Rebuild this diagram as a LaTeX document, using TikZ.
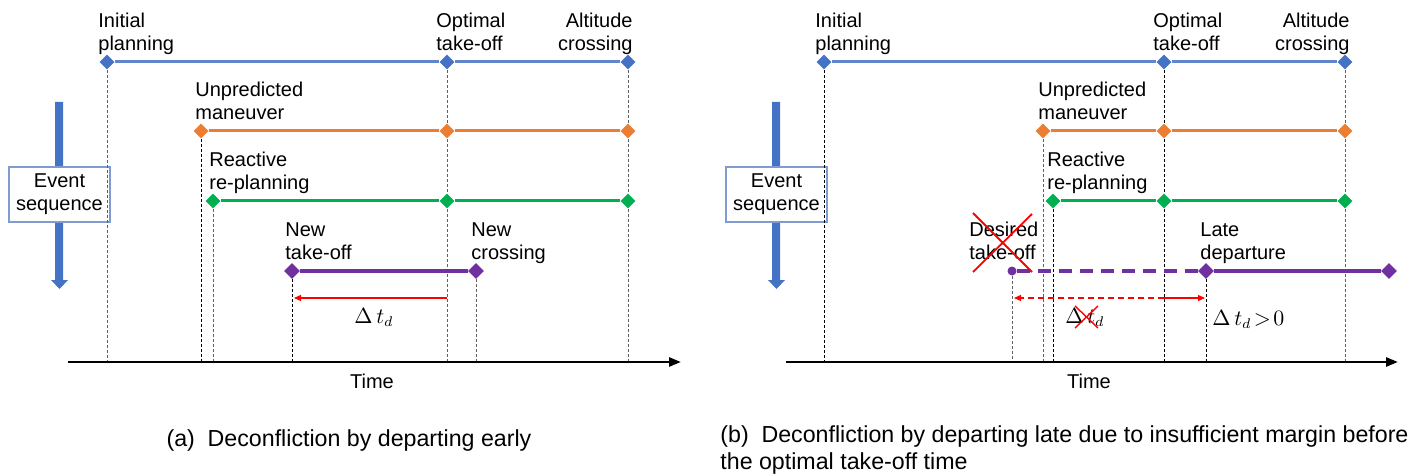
\documentclass[tikz,border=0pt]{standalone}
\usepackage{fontspec}
\setmainfont{Liberation Sans}
\usepackage{tikz}
\usetikzlibrary{shapes.geometric, arrows.meta}

\definecolor{evblue}{HTML}{4472C4}
\definecolor{evorange}{HTML}{ED7D31}
\definecolor{evgreen}{HTML}{00B050}
\definecolor{evpurple}{HTML}{7030A0}
\definecolor{boxedge}{HTML}{7F9BD0}

\begin{document}
\begin{tikzpicture}[x=0.5pt, y=-0.5pt,
    every node/.style={font=\fontsize{10}{11.5}\selectfont},
    evt/.style={diamond, fill=#1, inner sep=0pt, minimum size=7.5pt},
    lbl/.style={inner sep=0pt, text depth=0pt, align=left, anchor=south west},
    lblr/.style={inner sep=0pt, text depth=0pt, align=right, anchor=south east},
    phase/.style={line width=1.5pt},
    guide/.style={line width=0.5pt, gray!75!black, dash pattern=on 1.5pt off 1pt},
    guideb/.style={guide, black},
    timeaxis/.style={line width=1.3pt, -{Triangle[length=6pt,width=4.5pt]}},
    shiftarr/.style={red, line width=0.6pt, -{Triangle[length=3.5pt,width=3pt]}},
    evbox/.style={draw=boxedge, fill=white, line width=0.6pt, align=center,
        minimum width=50.5pt, minimum height=27.5pt, inner sep=0pt},
    crossout/.style={red, line width=0.9pt},
    dt/.style={font=\fontsize{10.5}{12}\selectfont, inner sep=0pt},
    caption/.style={font=\fontsize{11.6}{13.5}\selectfont, inner sep=0pt}
]
\useasboundingbox (0,0) rectangle (1426,476);

%%%% (a) departing early
\fill[evblue] (55,102) -- (63,102) -- (63,280) -- (68,280) -- (59.5,289) -- (51,280) -- (55,280) -- cycle;
\node[evbox] (aev) at (59.5,194.5) {Event\\sequence};

\coordinate (at0) at (68,362);
\coordinate (at9) at (681,362);

\node[evt=evblue] (ab1) at (107,62) {};
\node[evt=evblue] (ab2) at (447,62) {};
\node[evt=evblue] (ab3) at (628,62) {};
\node[evt=evorange] (ao1) at (201,131) {};
\node[evt=evorange] (ao2) at (447,131) {};
\node[evt=evorange] (ao3) at (628,131) {};
\node[evt=evgreen] (ag1) at (213,201) {};
\node[evt=evgreen] (ag2) at (447,201) {};
\node[evt=evgreen] (ag3) at (628,201) {};
\node[evt=evpurple, minimum size=8pt] (ap1) at (292,271) {};
\node[evt=evpurple, minimum size=8pt] (ap2) at (476,271) {};

\draw[guide] (ab1) -- (ab1 |- at0);
\draw[guideb] (ao1) -- (ao1 |- at0);
\draw[guide] (ag1) -- (ag1 |- at0);
\draw[guideb] (ap1) -- (ap1 |- at0);
\draw[guide] (ab2) -- (ao2) -- (ag2) -- (ag2 |- at0);
\draw[guide] (ap2) -- (ap2 |- at0);
\draw[guide] (ab3) -- (ao3) -- (ag3) -- (ag3 |- at0);

\draw[phase, evblue!85!white] (ab1) -- (ab2) -- (ab3);
\draw[phase, evorange] (ao1) -- (ao2) -- (ao3);
\draw[phase, evgreen] (ag1) -- (ag2) -- (ag3);
\draw[phase, evpurple, line width=2pt] (ap1) -- (ap2);

\node[lbl] (ainit) at (98,51) {Initial\\planning};
\node[lbl] (aopt) at (436,51) {Optimal\\take-off};
\node[lblr] (aalt) at (633,51) {Altitude\\crossing};
\node[lbl] (aunp) at (195,120) {Unpredicted\\maneuver};
\node[lbl] (areac) at (209,190) {Reactive\\re-planning};
\node[lbl] (anew) at (285,260) {New\\take-off};
\node[lbl] (anewc) at (471,260) {New\\crossing};

\coordinate (ad0) at (447,298);
\coordinate (ad1) at (294,298);
\draw[shiftarr] (ad0) -- (ad1);
\node[dt, anchor=base] (adt) at (374,323) {$\Delta\,t_d$};

\draw[timeaxis] (at0) -- (at9);
\node[anchor=base] (atime) at (372,388) {Time};

\node[caption, anchor=base] (capa) at (349,446) {(a)\hspace{0.55em}Deconfliction by departing early};

%%%% (b) departing late
\fill[evblue] (772,102) -- (780,102) -- (780,280) -- (785,280) -- (776.5,289) -- (768,280) -- (772,280) -- cycle;
\node[evbox] (bev) at (776.5,194.5) {Event\\sequence};

\coordinate (bt0) at (786,362);
\coordinate (bt9) at (1398,362);

\node[evt=evblue] (bb1) at (824,62) {};
\node[evt=evblue] (bb2) at (1164,62) {};
\node[evt=evblue] (bb3) at (1345,62) {};
\node[evt=evorange] (bo1) at (1043,131) {};
\node[evt=evorange] (bo2) at (1164,131) {};
\node[evt=evorange] (bo3) at (1345,131) {};
\node[evt=evgreen] (bg1) at (1053,201) {};
\node[evt=evgreen] (bg2) at (1164,201) {};
\node[evt=evgreen] (bg3) at (1345,201) {};
\node[circle, fill=evpurple, inner sep=0pt, minimum size=4.5pt] (bp0) at (1012,271) {};
\node[evt=evpurple, minimum size=8pt] (bp1) at (1206,271) {};
\node[evt=evpurple, minimum size=8pt] (bp2) at (1389,271) {};

\draw[guideb] (bb1) -- (bb1 |- bt0);
\draw[guide] (bo1) -- (bo1 |- bt0);
\draw[guideb] (bg1) -- (bg1 |- bt0);
\draw[guide] (bp0) -- (bp0 |- bt0);
\draw[guideb] (bb2) -- (bo2) -- (bg2) -- (bg2 |- bt0);
\draw[guideb] (bp1) -- (bp1 |- bt0);
\draw[guide] (bb3) -- (bo3) -- (bg3) -- (bg3 |- bt0);

\draw[phase, evblue!85!white] (bb1) -- (bb2) -- (bb3);
\draw[phase, evorange] (bo1) -- (bo2) -- (bo3);
\draw[phase, evgreen] (bg1) -- (bg2) -- (bg3);
\draw[phase, evpurple, line width=2pt, dash pattern=on 6.5pt off 4pt] (bp0) -- (bp1);
\draw[phase, evpurple, line width=2pt] (bp1) -- (bp2);

\node[lbl] (binit) at (815,51) {Initial\\planning};
\node[lbl] (bopt) at (1153,51) {Optimal\\take-off};
\node[lblr] (balt) at (1350,51) {Altitude\\crossing};
\node[lbl] (bunp) at (1038,120) {Unpredicted\\maneuver};
\node[lbl] (breac) at (1047,190) {Reactive\\re-planning};
\node[lbl] (bdes) at (969,260) {Desired\\take-off};
\node[lbl] (blate) at (1200,260) {Late\\departure};
\draw[crossout] (973,213) -- (1032,272);
\draw[crossout] (1032,214) -- (973,272);

\coordinate (bd0) at (1164,298);
\coordinate (bd1) at (1014,298);
\coordinate (bd2) at (1205,298);
\draw[shiftarr, dash pattern=on 3pt off 2pt] (bd0) -- (bd1);
\draw[shiftarr] (bd0) -- (bd2);
\node[dt, anchor=base] (bdt) at (1085,323) {$\Delta\,t_d$};
\draw[crossout, line width=0.7pt] (1075,306) -- (1098,328);
\draw[crossout, line width=0.7pt] (1098,306) -- (1075,328);
\node[dt, anchor=base west] (bdt0) at (1212,325) {$\Delta\,t_d\mkern2mu{>}\mkern2mu0$};

\draw[timeaxis] (bt0) -- (bt9);
\node[anchor=base] (btime) at (1089,388) {Time};

\node[caption, align=left, anchor=south west, text depth=0pt] (capb) at (720,470)
    {(b)\hspace{0.55em}Deconfliction by departing late due to insufficient margin before\\the optimal take-off time};
\end{tikzpicture}
\end{document}
